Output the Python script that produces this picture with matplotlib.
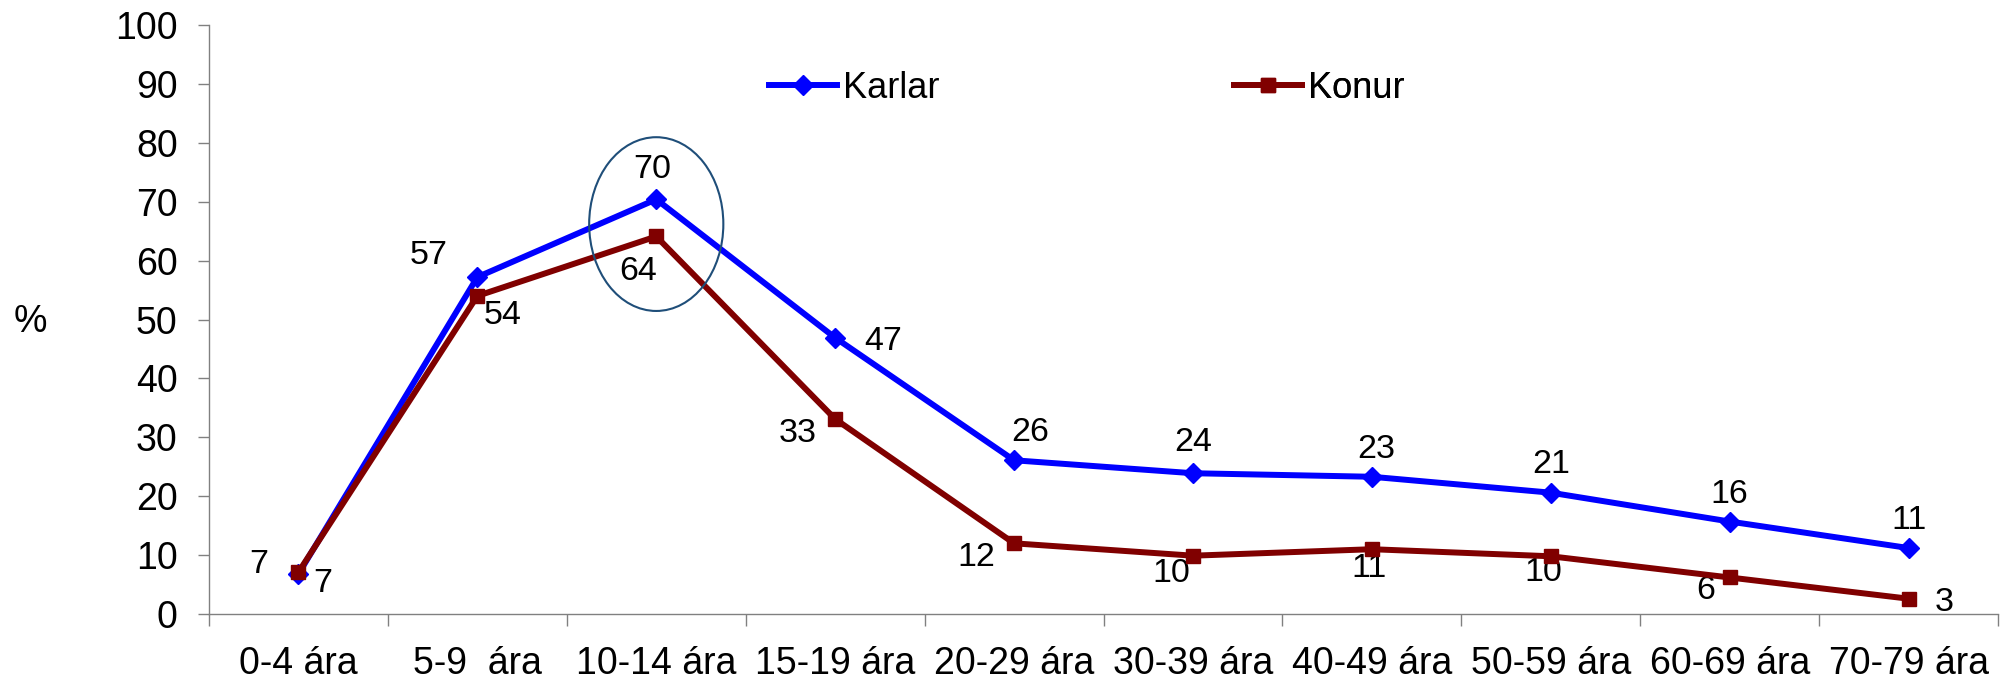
import numpy as np
import matplotlib.pyplot as plt
from matplotlib.patches import Ellipse
from matplotlib.lines import Line2D

plt.rcParams['font.family'] = ['Liberation Sans', 'DejaVu Sans']

categories = ["0-4 ára", "5-9  ára", "10-14 ára", "15-19 ára", "20-29 ára",
              "30-39 ára", "40-49 ára", "50-59 ára", "60-69 ára", "70-79 ára"]
karlar = [6.8, 57.2, 70.4, 46.9, 26.1, 23.9, 23.3, 20.6, 15.7, 11.2]
konur = [7.1, 54.0, 64.1, 33.1, 12.0, 9.9, 11.0, 9.8, 6.2, 2.6]

# where each value label sits relative to its point (pixels)
karlar_off = [(-40, 13), (-49, 25), (-4, 33), (48, 0), (16, 31),
              (0, 34), (4, 31), (0, 32), (0, 31), (0, 31)]
konur_off = [(24, -8), (25, -16), (-18, -32), (-37, -11), (-38, -11),
             (-22, -14), (-3, -16), (-7, -13), (-24, -10), (36, 0)]

BLUE = '#0000FF'
RED = '#800000'
GREY = '#808080'
x = np.arange(len(categories))

fig = plt.figure(figsize=(20.14, 6.81), dpi=100)
ax = fig.add_axes([209 / 2014, 67 / 681, 1789 / 2014, 589 / 681])

ax.plot(x, karlar, color=BLUE, lw=4.3, marker='D', ms=10, zorder=3)
ax.plot(x, konur, color=RED, lw=4.3, marker='s', ms=10.5, zorder=4)

for xi, v, (dx, dy) in zip(x, karlar, karlar_off):
    ax.annotate(f"{v:.0f}", (xi, v), xytext=(dx, dy - 12), textcoords='offset pixels',
                ha='center', va='baseline', fontsize=24.5)
for xi, v, (dx, dy) in zip(x, konur, konur_off):
    ax.annotate(f"{v:.0f}", (xi, v), xytext=(dx, dy - 12), textcoords='offset pixels',
                ha='center', va='baseline', fontsize=24.5)

# circle around the 10-14 peak
ax.add_patch(Ellipse((2, 66.2), 0.75, 29.5, fill=False, edgecolor='#1F4E79', lw=1.5, zorder=5))

ax.set_xlim(-0.5, len(categories) - 0.5)
ax.set_ylim(0, 100)
ax.set_yticks(np.arange(0, 101, 10))
ax.set_xticks(np.arange(-0.5, len(categories), 1))
ax.set_xticklabels([])
ax.set_xticks(x, minor=True)
ax.set_xticklabels(categories, minor=True)
ax.tick_params(axis='x', which='major', length=8.6, width=1, color=GREY, direction='out')
ax.tick_params(axis='x', which='minor', length=0, pad=23, labelsize=27)
ax.tick_params(axis='y', length=8, width=1, color=GREY, direction='out', pad=14.5, labelsize=27)

for s in ['top', 'right']:
    ax.spines[s].set_visible(False)
for s in ['left', 'bottom']:
    ax.spines[s].set_color(GREY)
    ax.spines[s].set_linewidth(1)

ax.set_ylabel('%', rotation=0, fontsize=27, ha='center', va='center')
ax.yaxis.set_label_coords(-0.100, 0.496)

# two legend entries, each pinned at its own spot
legend_font = {'family': ['Liberation Sans Narrow', 'Liberation Sans'], 'size': 26}
entries = [(Line2D([], [], color=BLUE, lw=4.3, marker='D', ms=10), 'Karlar', 769),
           (Line2D([], [], color=RED, lw=4.3, marker='s', ms=10.5), 'Konur', 1234)]
for handle, name, left in entries:
    leg = ax.legend([handle], [name], loc='center left',
                    bbox_to_anchor=(left / 2014, 1 - 88 / 681),
                    bbox_transform=fig.transFigure, frameon=False, prop=legend_font,
                    handlelength=1.88, handletextpad=0.17,
                    borderpad=0, borderaxespad=0, numpoints=1)
    ax.add_artist(leg)

fig.savefig('out.png', dpi=100)
